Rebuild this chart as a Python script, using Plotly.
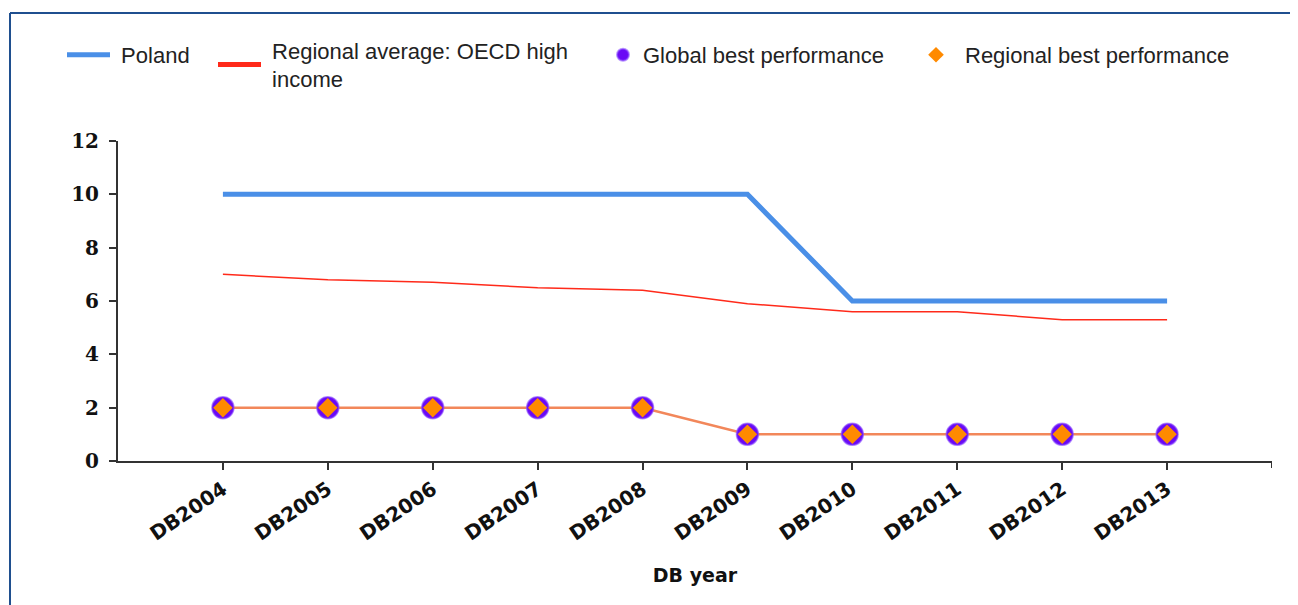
import plotly.graph_objects as go

years = ["DB2004", "DB2005", "DB2006", "DB2007", "DB2008",
         "DB2009", "DB2010", "DB2011", "DB2012", "DB2013"]
poland = [10, 10, 10, 10, 10, 10, 6, 6, 6, 6]
regional_avg = [7.0, 6.8, 6.7, 6.5, 6.4, 5.9, 5.6, 5.6, 5.3, 5.3]
global_best = [2, 2, 2, 2, 2, 1, 1, 1, 1, 1]
regional_best = [2, 2, 2, 2, 2, 1, 1, 1, 1, 1]
y_ticks = [0, 2, 4, 6, 8, 10, 12]

# page has an 8px body margin; work in page pixels and convert
OFF = 8
W, H = 1290, 597
L, R, T, B = 110, 26, 133, 144
PW = W - L - R
PH = H - T - B

def px2x(px):
    return (px - OFF - L) / PW

def px2y(py):
    return (H - B - (py - OFF)) / PH

LEG_FONT = dict(family="Liberation Sans, Arial, sans-serif", size=22, color="#222222")
NB = "\u00a0"

fig = go.Figure()

fig.add_trace(go.Scatter(
    x=years, y=regional_best, mode="lines",
    line=dict(color="#F2875A", width=2.5),
    showlegend=False, hoverinfo="skip"))

fig.add_trace(go.Scatter(
    x=years, y=poland, mode="lines", name=NB + "Poland",
    line=dict(color="#4A8FE7", width=5), legend="legend"))

fig.add_trace(go.Scatter(
    x=years, y=regional_avg, mode="lines",
    name=NB + "Regional average: OECD high<br>" + NB + "income",
    line=dict(color="#FF2A1A", width=1.5), legend="legend2"))

fig.add_trace(go.Scatter(
    x=years, y=global_best, mode="markers", name="Global best performance",
    marker=dict(color="#6A0AF5", size=22, symbol="circle",
                line=dict(color="rgba(140,80,255,0.6)", width=1.5)),
    legend="legend3"))

fig.add_trace(go.Scatter(
    x=years, y=regional_best, mode="markers", name="Regional best performance",
    marker=dict(color="#FF8A00", size=15, symbol="diamond", line=dict(width=0)),
    legend="legend4"))

leg_common = dict(orientation="h", yanchor="middle", xanchor="left",
                  font=LEG_FONT, bgcolor="rgba(0,0,0,0)", itemsizing="constant",
                  valign="middle")

fig.update_layout(
    width=W, height=H,
    margin=dict(l=L, r=R, t=T, b=B),
    paper_bgcolor="white", plot_bgcolor="white",
    legend=dict(x=px2x(67 - 5), y=px2y(55), itemwidth=43, **leg_common),
    legend2=dict(x=px2x(218 - 5), y=px2y(65), itemwidth=43, **leg_common),
    legend3=dict(x=px2x(643 - 40), y=px2y(55), itemwidth=30, **leg_common),
    legend4=dict(x=px2x(965 - 58), y=px2y(55), itemwidth=48, **leg_common),
    xaxis=dict(
        type="category", range=[-1, len(years)],
        showgrid=False, zeroline=False,
        showline=True, linecolor="#333333", linewidth=2,
        ticks="outside", ticklen=7, tickwidth=2, tickcolor="#333333",
        tickangle=-34,
        tickfont=dict(family="DejaVu Sans, sans-serif", size=20, color="#111111", weight="bold"),
        title=dict(text="DB year", standoff=24,
                   font=dict(family="DejaVu Sans, sans-serif", size=19, color="#111111", weight="bold")),
    ),
    yaxis=dict(
        range=[0, 12], tickvals=y_ticks,
        showgrid=False, zeroline=False,
        showline=True, linecolor="#333333", linewidth=2,
        ticks="outside", ticklen=7, tickwidth=2, tickcolor="#333333",
        ticklabelstandoff=6,
        tickfont=dict(family="DejaVu Serif, serif", size=20, color="#111111", weight="bold"),
    ),
    shapes=[
        dict(type="line", xref="x", yref="paper", x0=len(years), x1=len(years),
             y0=0, y1=-7 / PH, line=dict(color="#333333", width=2)),
        dict(type="line", xref="paper", yref="paper",
             x0=px2x(10), x1=px2x(1310), y0=px2y(13), y1=px2y(13),
             line=dict(color="#1F4F8F", width=2)),
        dict(type="line", xref="paper", yref="paper",
             x0=px2x(10), x1=px2x(10), y0=px2y(13), y1=px2y(620),
             line=dict(color="#1F4F8F", width=2)),
    ],
    showlegend=True,
)

fig.write_html("out.html")
